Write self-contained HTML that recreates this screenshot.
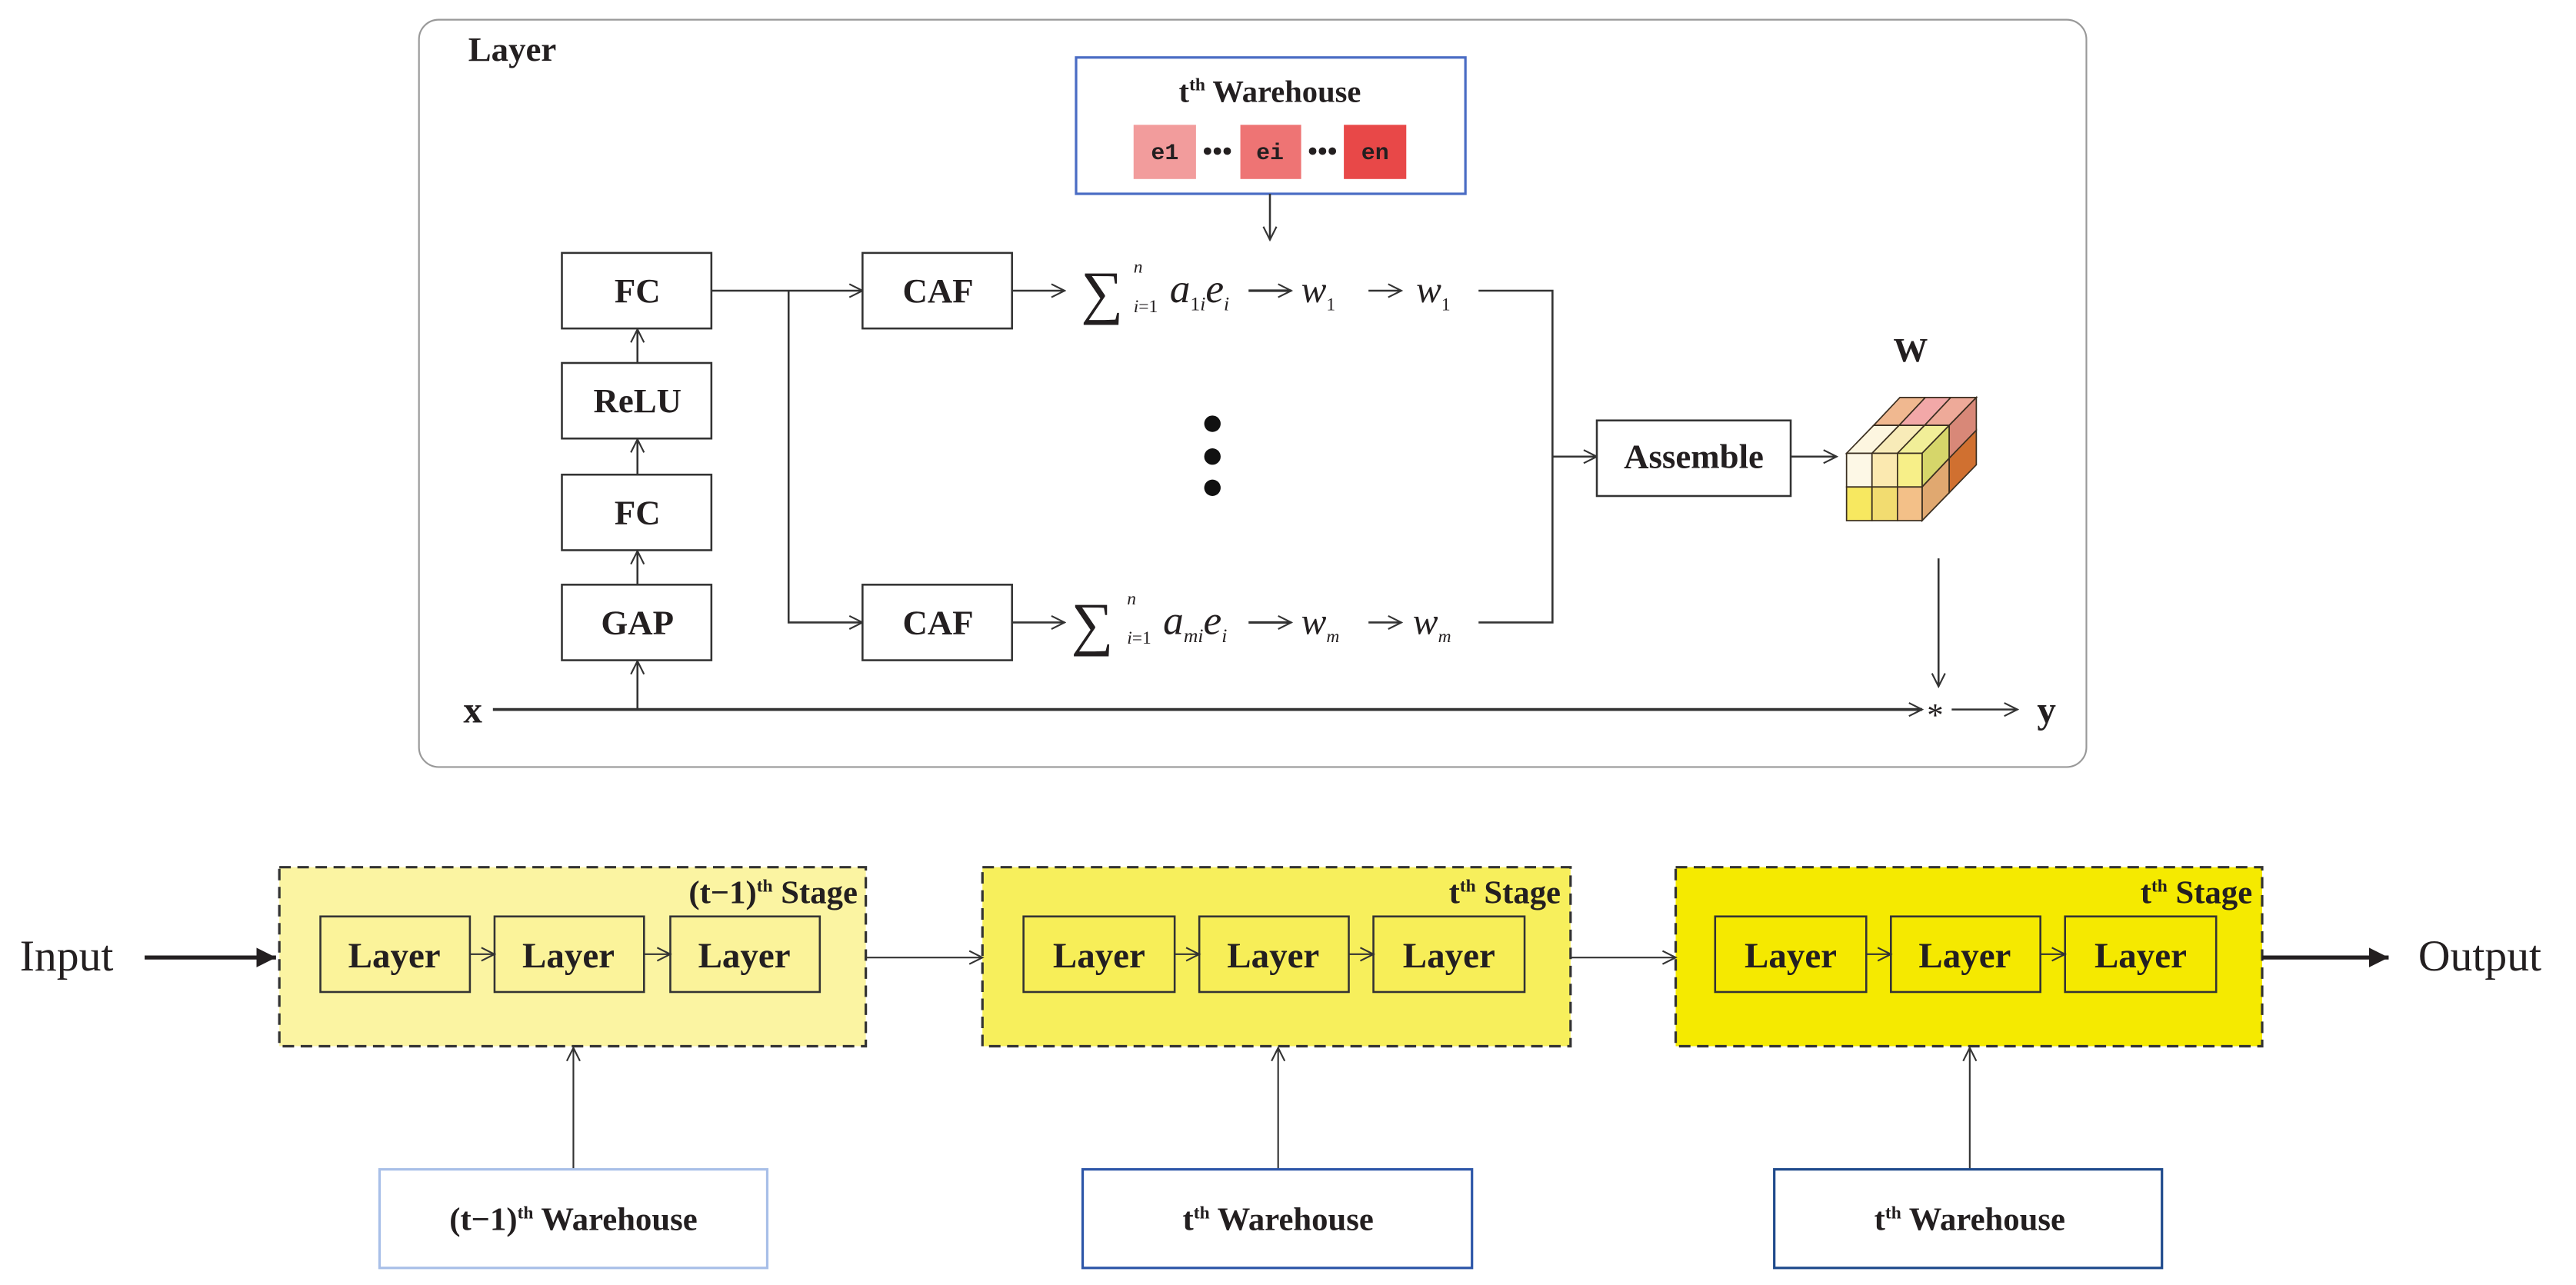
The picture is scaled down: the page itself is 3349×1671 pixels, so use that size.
<!DOCTYPE html>
<html><head><meta charset="utf-8"><style>
html,body{margin:0;padding:0;background:#fff;}
svg{display:block;}
text{font-family:"Liberation Serif",serif;fill:#231f20;}
.b{font-weight:bold;}
</style></head><body>
<svg width="3349" height="1671" viewBox="0 0 1568 782.4" xmlns="http://www.w3.org/2000/svg">
<defs>
<marker id="a" markerWidth="10" markerHeight="10" refX="9" refY="5" orient="auto" markerUnits="userSpaceOnUse"><path d="M1,1 L9,5 L1,9" fill="none" stroke="#333" stroke-width="1"/></marker>
<marker id="t" markerWidth="14" markerHeight="14" refX="12" refY="6" orient="auto" markerUnits="userSpaceOnUse"><path d="M0,0 L12,6 L0,12 Z" fill="#231f20"/></marker>
</defs>
<g stroke="#333" stroke-width="1" fill="none">
<rect x="255" y="12" width="1015" height="455" rx="12" stroke="#999"/>
</g>
<text x="285" y="37" font-size="21" class="b">Layer</text>
<!-- warehouse -->
<rect x="655" y="35" width="237" height="83" fill="#fff" stroke="#4a6cc4" stroke-width="1.5"/>
<text x="773" y="62" font-size="19" class="b" text-anchor="middle">t<tspan font-size="11" dy="-7">th</tspan><tspan dy="7"> Warehouse</tspan></text>
<rect x="690" y="76" width="38" height="33" fill="#f29c9c"/>
<rect x="755" y="76" width="37" height="33" fill="#ee7474"/>
<rect x="818" y="76" width="38" height="33" fill="#e84848"/>
<g font-size="14" font-weight="bold" text-anchor="middle">
<text x="709" y="97" style="font-family:'Liberation Mono',monospace">e1</text>
<text x="773" y="97" style="font-family:'Liberation Mono',monospace">ei</text>
<text x="837" y="97" style="font-family:'Liberation Mono',monospace">en</text>
</g>
<g fill="#231f20"><circle cx="735" cy="92" r="2.3"/><circle cx="741" cy="92" r="2.3"/><circle cx="747" cy="92" r="2.3"/>
<circle cx="799" cy="92" r="2.3"/><circle cx="805" cy="92" r="2.3"/><circle cx="811" cy="92" r="2.3"/></g>
<g stroke="#333" stroke-width="1.2" fill="none">
<line x1="773" y1="118" x2="773" y2="146" marker-end="url(#a)"/>
<rect x="342" y="154" width="91" height="46" fill="#fff"/>
<rect x="342" y="221" width="91" height="46" fill="#fff"/>
<rect x="342" y="289" width="91" height="46" fill="#fff"/>
<rect x="342" y="356" width="91" height="46" fill="#fff"/>
<line x1="388" y1="221" x2="388" y2="200.5" marker-end="url(#a)"/>
<line x1="388" y1="289" x2="388" y2="267.5" marker-end="url(#a)"/>
<line x1="388" y1="356" x2="388" y2="335.5" marker-end="url(#a)"/>
<line x1="388" y1="432" x2="388" y2="402.5" marker-end="url(#a)"/>
<line x1="300" y1="432" x2="1170" y2="432" stroke-width="1.8" marker-end="url(#a)"/>
<line x1="433" y1="177" x2="525" y2="177" marker-end="url(#a)"/>
<polyline points="480,177 480,379 525,379" marker-end="url(#a)"/>
<rect x="525" y="154" width="91" height="46" fill="#fff"/>
<rect x="525" y="356" width="91" height="46" fill="#fff"/>
<line x1="616" y1="177" x2="648" y2="177" marker-end="url(#a)"/>
<line x1="616" y1="379" x2="648" y2="379" marker-end="url(#a)"/>
<line x1="760" y1="177" x2="786" y2="177" stroke-width="1.5" marker-end="url(#a)"/>
<line x1="833" y1="177" x2="853" y2="177" marker-end="url(#a)"/>
<line x1="760" y1="379" x2="786" y2="379" stroke-width="1.5" marker-end="url(#a)"/>
<line x1="833" y1="379" x2="853" y2="379" marker-end="url(#a)"/>
<polyline points="900,177 945,177 945,379 900,379"/>
<line x1="945" y1="278" x2="972" y2="278" marker-end="url(#a)"/>
<rect x="972" y="256" width="118" height="46" fill="#fff"/>
<line x1="1090" y1="278" x2="1118" y2="278" marker-end="url(#a)"/>
<line x1="1180" y1="340" x2="1180" y2="418" marker-end="url(#a)"/>
<line x1="1188" y1="432" x2="1228" y2="432" marker-end="url(#a)"/>
</g>
<g font-size="21" class="b" text-anchor="middle">
<text x="388" y="184">FC</text><text x="388" y="251">ReLU</text><text x="388" y="319">FC</text><text x="388" y="386">GAP</text>
<text x="571" y="184">CAF</text><text x="571" y="386">CAF</text>
<text x="1031" y="285">Assemble</text>
<text x="1163" y="220">W</text>
</g>
<text x="282" y="440" font-size="23" class="b">x</text>
<text x="1173" y="442" font-size="20">*</text>
<text x="1240" y="440" font-size="23" class="b">y</text>
<!-- formulas -->
<g font-size="18" font-style="italic">
<text x="658" y="190" font-size="36" font-style="normal">∑</text>
<text x="690" y="166" font-size="11">n</text><text x="690" y="190" font-size="11">i<tspan font-style="normal">=1</tspan></text>
<text x="712" y="184" font-size="25">a<tspan font-size="12" dy="5"><tspan font-style="normal">1</tspan>i</tspan><tspan font-size="25" dy="-5">e</tspan><tspan font-size="12" dy="5">i</tspan></text>
<text x="792" y="184" font-size="23">w<tspan font-size="11" dy="5" font-style="normal">1</tspan></text>
<text x="862" y="184" font-size="23">w<tspan font-size="11" dy="5" font-style="normal">1</tspan></text>
<text x="652" y="392" font-size="36" font-style="normal">∑</text>
<text x="686" y="368" font-size="11">n</text><text x="686" y="392" font-size="11">i<tspan font-style="normal">=1</tspan></text>
<text x="708" y="386" font-size="25">a<tspan font-size="12" dy="5">mi</tspan><tspan font-size="25" dy="-5">e</tspan><tspan font-size="12" dy="5">i</tspan></text>
<text x="792" y="386" font-size="23">w<tspan font-size="11" dy="5">m</tspan></text>
<text x="860" y="386" font-size="23">w<tspan font-size="11" dy="5">m</tspan></text>
</g>
<g fill="#111"><circle cx="738" cy="258" r="5"/><circle cx="738" cy="278" r="5"/><circle cx="738" cy="297" r="5"/></g>
<!-- cube -->
<g stroke="#3a2e20" stroke-width="0.8">
<polygon points="1140.5,259 1156,259 1172,242 1156.5,242" fill="#f0b890"/>
<polygon points="1156,259 1171.5,259 1187.5,242 1172,242" fill="#f2a8a8"/>
<polygon points="1171.5,259 1186.5,259 1203,242 1187.5,242" fill="#eeaa99"/>
<polygon points="1124,276 1139.5,276 1156,259 1140.5,259" fill="#fdf6e0"/>
<polygon points="1139.5,276 1155,276 1171.5,259 1156,259" fill="#f8ebb8"/>
<polygon points="1155,276 1170,276 1186.5,259 1171.5,259" fill="#f1ee98"/>
<polygon points="1170,276 1186.5,259 1186.5,279 1170,296.5" fill="#d6d66a"/>
<polygon points="1186.5,259 1203,242 1203,262 1186.5,279" fill="#d88878"/>
<polygon points="1170,296.5 1186.5,279 1186.5,300 1170,317" fill="#e0a870"/>
<polygon points="1186.5,279 1203,262 1203,283 1186.5,300" fill="#d07030"/>
<rect x="1124" y="276" width="15.5" height="20.5" fill="#fdf8e6"/>
<rect x="1139.5" y="276" width="15.5" height="20.5" fill="#fbe9b0"/>
<rect x="1155" y="276" width="15" height="20.5" fill="#f7ef88"/>
<rect x="1124" y="296.5" width="15.5" height="20.5" fill="#f7e860"/>
<rect x="1139.5" y="296.5" width="15.5" height="20.5" fill="#f2dc70"/>
<rect x="1155" y="296.5" width="15" height="20.5" fill="#f3c088"/>
</g>
<!-- bottom -->
<g stroke="#333" stroke-width="1.2">
<rect x="170" y="528" width="357" height="109" fill="#fbf4a2" stroke-dasharray="7,4" stroke-width="1.5"/>
<rect x="598" y="528" width="358" height="109" fill="#f7ef5c" stroke-dasharray="7,4" stroke-width="1.5"/>
<rect x="1020" y="528" width="357" height="109" fill="#f5ea00" stroke-dasharray="7,4" stroke-width="1.5"/>
<rect x="195" y="558" width="91" height="46" fill="#fbf39a"/>
<rect x="301" y="558" width="91" height="46" fill="#fbf39a"/>
<rect x="408" y="558" width="91" height="46" fill="#fbf39a"/>
<rect x="623" y="558" width="92" height="46" fill="#f7ee58"/>
<rect x="730" y="558" width="91" height="46" fill="#f7ee58"/>
<rect x="836" y="558" width="92" height="46" fill="#f7ee58"/>
<rect x="1044" y="558" width="92" height="46" fill="#f5e900"/>
<rect x="1151" y="558" width="91" height="46" fill="#f5e900"/>
<rect x="1257" y="558" width="92" height="46" fill="#f5e900"/>
<g fill="none" stroke-width="1">
<line x1="286" y1="581" x2="301" y2="581" marker-end="url(#a)"/>
<line x1="392" y1="581" x2="408" y2="581" marker-end="url(#a)"/>
<line x1="715" y1="581" x2="730" y2="581" marker-end="url(#a)"/>
<line x1="821" y1="581" x2="836" y2="581" marker-end="url(#a)"/>
<line x1="1136" y1="581" x2="1151" y2="581" marker-end="url(#a)"/>
<line x1="1242" y1="581" x2="1257" y2="581" marker-end="url(#a)"/>
<line x1="527" y1="583" x2="598" y2="583" marker-end="url(#a)"/>
<line x1="956" y1="583" x2="1020" y2="583" marker-end="url(#a)"/>
<line x1="349" y1="712" x2="349" y2="638" marker-end="url(#a)"/>
<line x1="778" y1="712" x2="778" y2="638" marker-end="url(#a)"/>
<line x1="1199" y1="712" x2="1199" y2="638" marker-end="url(#a)"/>
</g>
<line x1="88" y1="583" x2="168" y2="583" stroke="#231f20" stroke-width="2.5" marker-end="url(#t)"/>
<line x1="1377" y1="583" x2="1454" y2="583" stroke="#231f20" stroke-width="2.5" marker-end="url(#t)"/>
<rect x="231" y="712" width="236" height="60" fill="#fff" stroke="#a8bfe8" stroke-width="1.5"/>
<rect x="659" y="712" width="237" height="60" fill="#fff" stroke="#2d56a8" stroke-width="1.5"/>
<rect x="1080" y="712" width="236" height="60" fill="#fff" stroke="#1f4a8c" stroke-width="1.5"/>
</g>
<g font-size="22" class="b" text-anchor="middle">
<text x="240" y="589">Layer</text><text x="346" y="589">Layer</text><text x="453" y="589">Layer</text>
<text x="669" y="589">Layer</text><text x="775" y="589">Layer</text><text x="882" y="589">Layer</text>
<text x="1090" y="589">Layer</text><text x="1196" y="589">Layer</text><text x="1303" y="589">Layer</text>
</g>
<g font-size="20" class="b" text-anchor="end">
<text x="522" y="550">(t−1)<tspan font-size="11" dy="-7">th</tspan><tspan dy="7"> Stage</tspan></text>
<text x="950" y="550">t<tspan font-size="11" dy="-7">th</tspan><tspan dy="7"> Stage</tspan></text>
<text x="1371" y="550">t<tspan font-size="11" dy="-7">th</tspan><tspan dy="7"> Stage</tspan></text>
</g>
<g font-size="20" class="b" text-anchor="middle">
<text x="349" y="749">(t−1)<tspan font-size="11" dy="-7">th</tspan><tspan dy="7"> Warehouse</tspan></text>
<text x="778" y="749">t<tspan font-size="11" dy="-7">th</tspan><tspan dy="7"> Warehouse</tspan></text>
<text x="1199" y="749">t<tspan font-size="11" dy="-7">th</tspan><tspan dy="7"> Warehouse</tspan></text>
</g>
<text x="12" y="591" font-size="27">Input</text>
<text x="1472" y="591" font-size="27">Output</text>
</svg>
</body></html>
